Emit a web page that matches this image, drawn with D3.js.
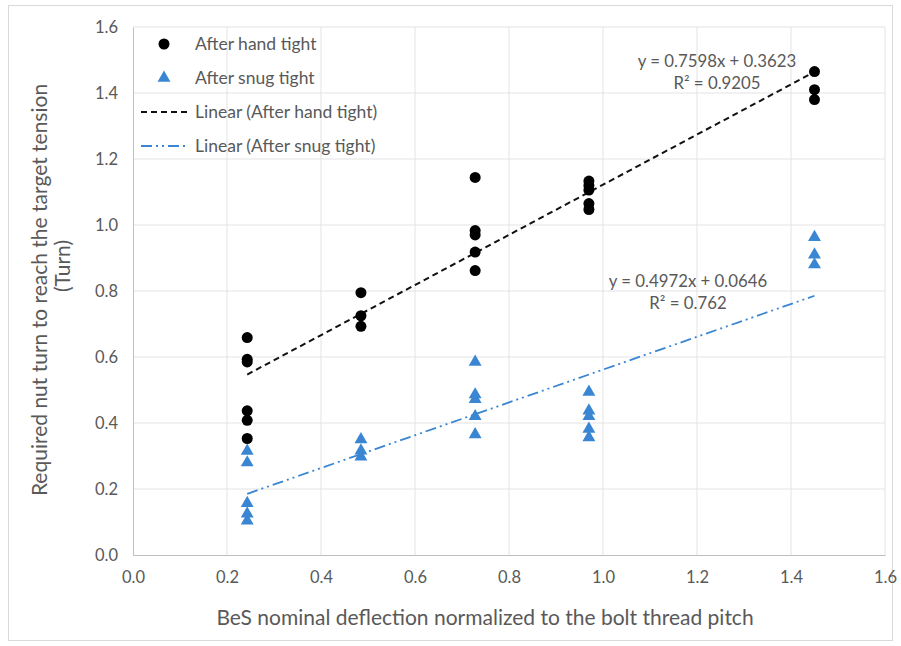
<!DOCTYPE html>
<html>
<head>
<meta charset="utf-8">
<script src="https://cdn.jsdelivr.net/npm/d3@7"></script>
<style>
  body { margin: 0; background: #fff; }
  svg text { font-family: Lato, "Open Sans", sans-serif; fill: #595959; }
</style>
</head>
<body>
<svg id="chart" width="901" height="646"></svg>
<script>
// x positions of the test groups
var handX = [0.243,0.243,0.243,0.243,0.243,0.243, 0.485,0.485,0.485,
             0.728,0.728,0.728,0.728,0.728, 0.97,0.97,0.97,0.97,0.97, 1.45,1.45,1.45];
var handY = [0.659,0.593,0.585,0.437,0.408,0.353, 0.795,0.725,0.693,
             1.144,0.983,0.970,0.918,0.862, 1.133,1.120,1.106,1.065,1.047, 1.465,1.410,1.380];

var snugX = [0.243,0.243,0.243,0.243,0.243, 0.485,0.485,0.485,
             0.728,0.728,0.728,0.728,0.728, 0.97,0.97,0.97,0.97,0.97, 1.45,1.45,1.45];
var snugY = [0.315,0.280,0.157,0.125,0.104, 0.350,0.316,0.298,
             0.585,0.486,0.472,0.420,0.365, 0.494,0.437,0.420,0.382,0.356, 0.963,0.910,0.880];

// trendline coefficients [slope, intercept] as shown in the chart
var handFit = [0.7598, 0.3623];
var snugFit = [0.4972, 0.0646];
var handLabel = ["y = 0.7598x + 0.3623", "R² = 0.9205"];
var snugLabel = ["y = 0.4972x + 0.0646", "R² = 0.762"];

var xTicks = [0, 0.2, 0.4, 0.6, 0.8, 1.0, 1.2, 1.4, 1.6];
var yTicks = [0, 0.2, 0.4, 0.6, 0.8, 1.0, 1.2, 1.4, 1.6];

var legendNames = ["After hand tight", "After snug tight", "Linear (After hand tight)", "Linear (After snug tight)"];

var blue = "#3a86d3";
var svg = d3.select("#chart");

// outer frame
svg.append("rect").attr("x", 8.5).attr("y", 5.5).attr("width", 884).attr("height", 635)
  .attr("fill", "none").attr("stroke", "#d9d9d9");

var x = d3.scaleLinear().domain([0, 1.6]).range([133, 885]);
var y = d3.scaleLinear().domain([0, 1.6]).range([555, 27]);

// gridlines
svg.append("g").selectAll("line").data(xTicks.slice(1)).enter().append("line")
  .attr("x1", function(d){ return x(d); }).attr("x2", function(d){ return x(d); })
  .attr("y1", y(0)).attr("y2", y(1.6))
  .attr("stroke", "#e3e3e3").attr("stroke-width", 1);
svg.append("g").selectAll("line").data(yTicks.slice(1)).enter().append("line")
  .attr("x1", x(0)).attr("x2", x(1.6))
  .attr("y1", function(d){ return y(d); }).attr("y2", function(d){ return y(d); })
  .attr("stroke", "#e3e3e3").attr("stroke-width", 1);

// axes
var xAxis = svg.append("g").attr("transform", "translate(0," + y(0) + ")")
  .call(d3.axisBottom(x).tickValues(xTicks).tickSize(0).tickPadding(16).tickFormat(d3.format(".1f")));
var yAxis = svg.append("g").attr("transform", "translate(" + x(0) + ",0)")
  .call(d3.axisLeft(y).tickValues(yTicks).tickSize(0).tickPadding(15).tickFormat(d3.format(".1f")));
[xAxis, yAxis].forEach(function(a){
  a.select(".domain").attr("stroke", "#bfbfbf");
  a.selectAll("text").style("font-size", "16.5px").attr("fill", "#595959")
    .style("font-family", "Lato, sans-serif");
});

// axis titles
svg.append("text").attr("x", 485).attr("y", 625).attr("text-anchor", "middle")
  .style("font-size", "21px").text("BeS nominal deflection normalized to the bolt thread pitch");
svg.append("text").attr("transform", "translate(47,290) rotate(-90)").attr("text-anchor", "middle")
  .style("font-size", "21px").text("Required nut turn to reach the target tension");
svg.append("text").attr("transform", "translate(70,266) rotate(-90)").attr("text-anchor", "middle")
  .style("font-size", "21px").text("(Turn)");

// trendlines
function fitLine(fit, xs){
  var lo = d3.min(xs), hi = d3.max(xs);
  return [[lo, fit[0]*lo + fit[1]], [hi, fit[0]*hi + fit[1]]];
}
var line = d3.line().x(function(d){ return x(d[0]); }).y(function(d){ return y(d[1]); });
svg.append("path").datum(fitLine(handFit, handX)).attr("d", line)
  .attr("fill", "none").attr("stroke", "#111").attr("stroke-width", 2).attr("stroke-dasharray", "6,4");
svg.append("path").datum(fitLine(snugFit, snugX)).attr("d", line)
  .attr("fill", "none").attr("stroke", blue).attr("stroke-width", 1.8).attr("stroke-dasharray", "11,4,2,4,2,4");

// points
var tri = d3.symbol().type(d3.symbolTriangle).size(72);
svg.append("g").selectAll("path").data(snugY).enter().append("path")
  .attr("d", tri)
  .attr("transform", function(d, i){ return "translate(" + x(snugX[i]) + "," + y(d) + ")"; })
  .attr("fill", blue);
svg.append("g").selectAll("circle").data(handY).enter().append("circle")
  .attr("cx", function(d, i){ return x(handX[i]); })
  .attr("cy", function(d){ return y(d); })
  .attr("r", 5.5).attr("fill", "#000");

// equation labels
svg.append("g").selectAll("text").data(handLabel).enter().append("text")
  .attr("x", 717).attr("y", function(d, i){ return 67 + i*22; }).attr("text-anchor", "middle")
  .style("font-size", "16.8px").text(function(d){ return d; });
svg.append("g").selectAll("text").data(snugLabel).enter().append("text")
  .attr("x", 688).attr("y", function(d, i){ return 287 + i*22; }).attr("text-anchor", "middle")
  .style("font-size", "16.8px").text(function(d){ return d; });

// legend
var leg = svg.append("g").selectAll("g").data(legendNames).enter().append("g")
  .attr("transform", function(d, i){ return "translate(0," + (44 + i*34) + ")"; });
leg.append("text").attr("x", 195).attr("y", 6).style("font-size", "17.5px").text(function(d){ return d; });
leg.filter(function(d, i){ return i === 0; }).append("circle").attr("cx", 164).attr("cy", 0).attr("r", 5.5).attr("fill", "#000");
leg.filter(function(d, i){ return i === 1; }).append("path").attr("d", tri)
  .attr("transform", "translate(164,0)").attr("fill", blue);
leg.filter(function(d, i){ return i === 2; }).append("line")
  .attr("x1", 141).attr("x2", 187).attr("y1", 0).attr("y2", 0)
  .attr("stroke", "#111").attr("stroke-width", 2).attr("stroke-dasharray", "6,4");
leg.filter(function(d, i){ return i === 3; }).append("line")
  .attr("x1", 141).attr("x2", 189).attr("y1", 0).attr("y2", 0)
  .attr("stroke", blue).attr("stroke-width", 1.8).attr("stroke-dasharray", "11,4,2,4,2,4");
</script>
</body>
</html>
